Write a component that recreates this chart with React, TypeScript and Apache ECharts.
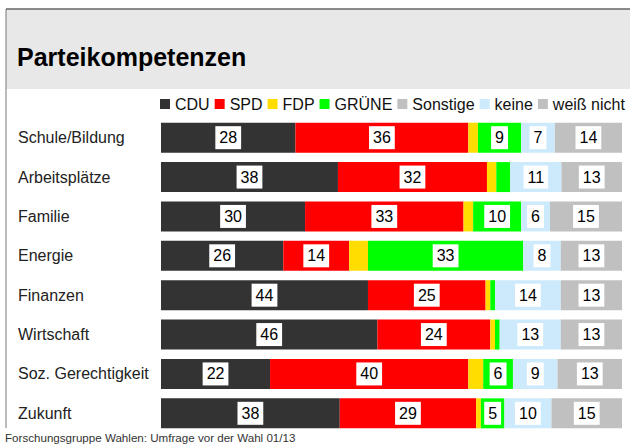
import React, { useEffect, useRef } from "react";
import * as echarts from "echarts";

const categories = [
  "Schule/Bildung",
  "Arbeitsplätze",
  "Familie",
  "Energie",
  "Finanzen",
  "Wirtschaft",
  "Soz. Gerechtigkeit",
  "Zukunft",
];

const seriesNames = ["CDU", "SPD", "FDP", "GRÜNE", "Sonstige", "keine", "weiß nicht"];
const seriesColors = ["#333333", "#ff0000", "#ffdd00", "#00ff00", "#c0c0c0", "#cceafb", "#c0c0c0"];

const cdu = [28, 38, 30, 26, 44, 46, 22, 38];
const spd = [36, 32, 33, 14, 25, 24, 40, 29];
const fdp = [2, 2, 2, 4, 1, 1, 3, 1];
const gruene = [9, 3, 10, 33, 1, 1, 6, 5];
const sonstige = [0, 0, 0, 0, 0, 0, 0, 0];
const keine = [7, 11, 6, 8, 14, 13, 9, 10];
const weissNicht = [14, 13, 15, 13, 13, 13, 13, 15];

const title = "Parteikompetenzen";
const source = "Forschungsgruppe Wahlen: Umfrage vor der Wahl 01/13";

const FONT = "'Liberation Sans', Arial, Helvetica, sans-serif";

export default function App() {
  const ref = useRef<HTMLDivElement>(null);

  useEffect(() => {
    if (!ref.current) return;
    const chart = echarts.init(ref.current, undefined, { renderer: "svg" });
    const all = [cdu, spd, fdp, gruene, sonstige, keine, weissNicht];
    const totals = categories.map((_, i) => all.reduce((s, arr) => s + arr[i], 0));

    const series = all.map((arr, si) => ({
      name: seriesNames[si],
      type: "bar",
      stack: "total",
      barWidth: 30,
      itemStyle: { color: seriesColors[si] },
      data: arr.map((v, i) => ({
        value: (v / totals[i]) * 100,
        label: {
          show: v >= 5,
          position: "inside",
          formatter: String(v),
          color: "#000",
          fontSize: 16,
          fontFamily: FONT,
          backgroundColor: "#fff",
          padding: [3, 4, 3, 4],
          lineHeight: 17,
        },
      })),
    }));

    chart.setOption({
      animation: false,
      backgroundColor: "#fff",
      textStyle: { fontFamily: FONT },
      graphic: [
        {
          type: "rect",
          shape: { x: 6, y: 9, width: 624, height: 80 },
          style: { fill: "#e8e8e8" },
          z: -10,
        },
        {
          type: "line",
          shape: { x1: 6, y1: 9, x2: 630, y2: 9 },
          style: { stroke: "#666", lineWidth: 1.5 },
        },
        {
          type: "line",
          shape: { x1: 6, y1: 9, x2: 6, y2: 428 },
          style: { stroke: "#777", lineWidth: 1 },
        },
        {
          type: "text",
          x: 17,
          y: 57,
          style: {
            text: title,
            font: `bold 25px ${FONT}`,
            fill: "#000",
            textVerticalAlign: "middle",
          },
        },
        {
          type: "text",
          x: 5,
          y: 437,
          style: {
            text: source,
            font: `11.6px ${FONT}`,
            fill: "#333",
            textVerticalAlign: "middle",
          },
        },
      ],
      legend: {
        data: seriesNames,
        left: 160,
        top: 96,
        width: 480,
        padding: [0, 0, 0, 0],
        icon: "rect",
        itemWidth: 10,
        itemHeight: 10,
        itemGap: 5,
        selectedMode: false,
        textStyle: { fontSize: 16, color: "#111", fontFamily: FONT },
      },
      grid: { left: 161, right: 8, top: 118, height: 315, containLabel: false },
      xAxis: { type: "value", min: 0, max: 100, show: false },
      yAxis: {
        type: "category",
        data: categories,
        inverse: true,
        axisLine: { show: false },
        axisTick: { show: false },
        splitLine: { show: false },
        axisLabel: {
          align: "left",
          margin: 143,
          fontSize: 16,
          color: "#222",
          fontFamily: FONT,
        },
      },
      series,
    });
    return () => chart.dispose();
  }, []);

  return <div ref={ref} style={{ width: 630, height: 446, position: "absolute", left: 0, top: 0 }} />;
}
